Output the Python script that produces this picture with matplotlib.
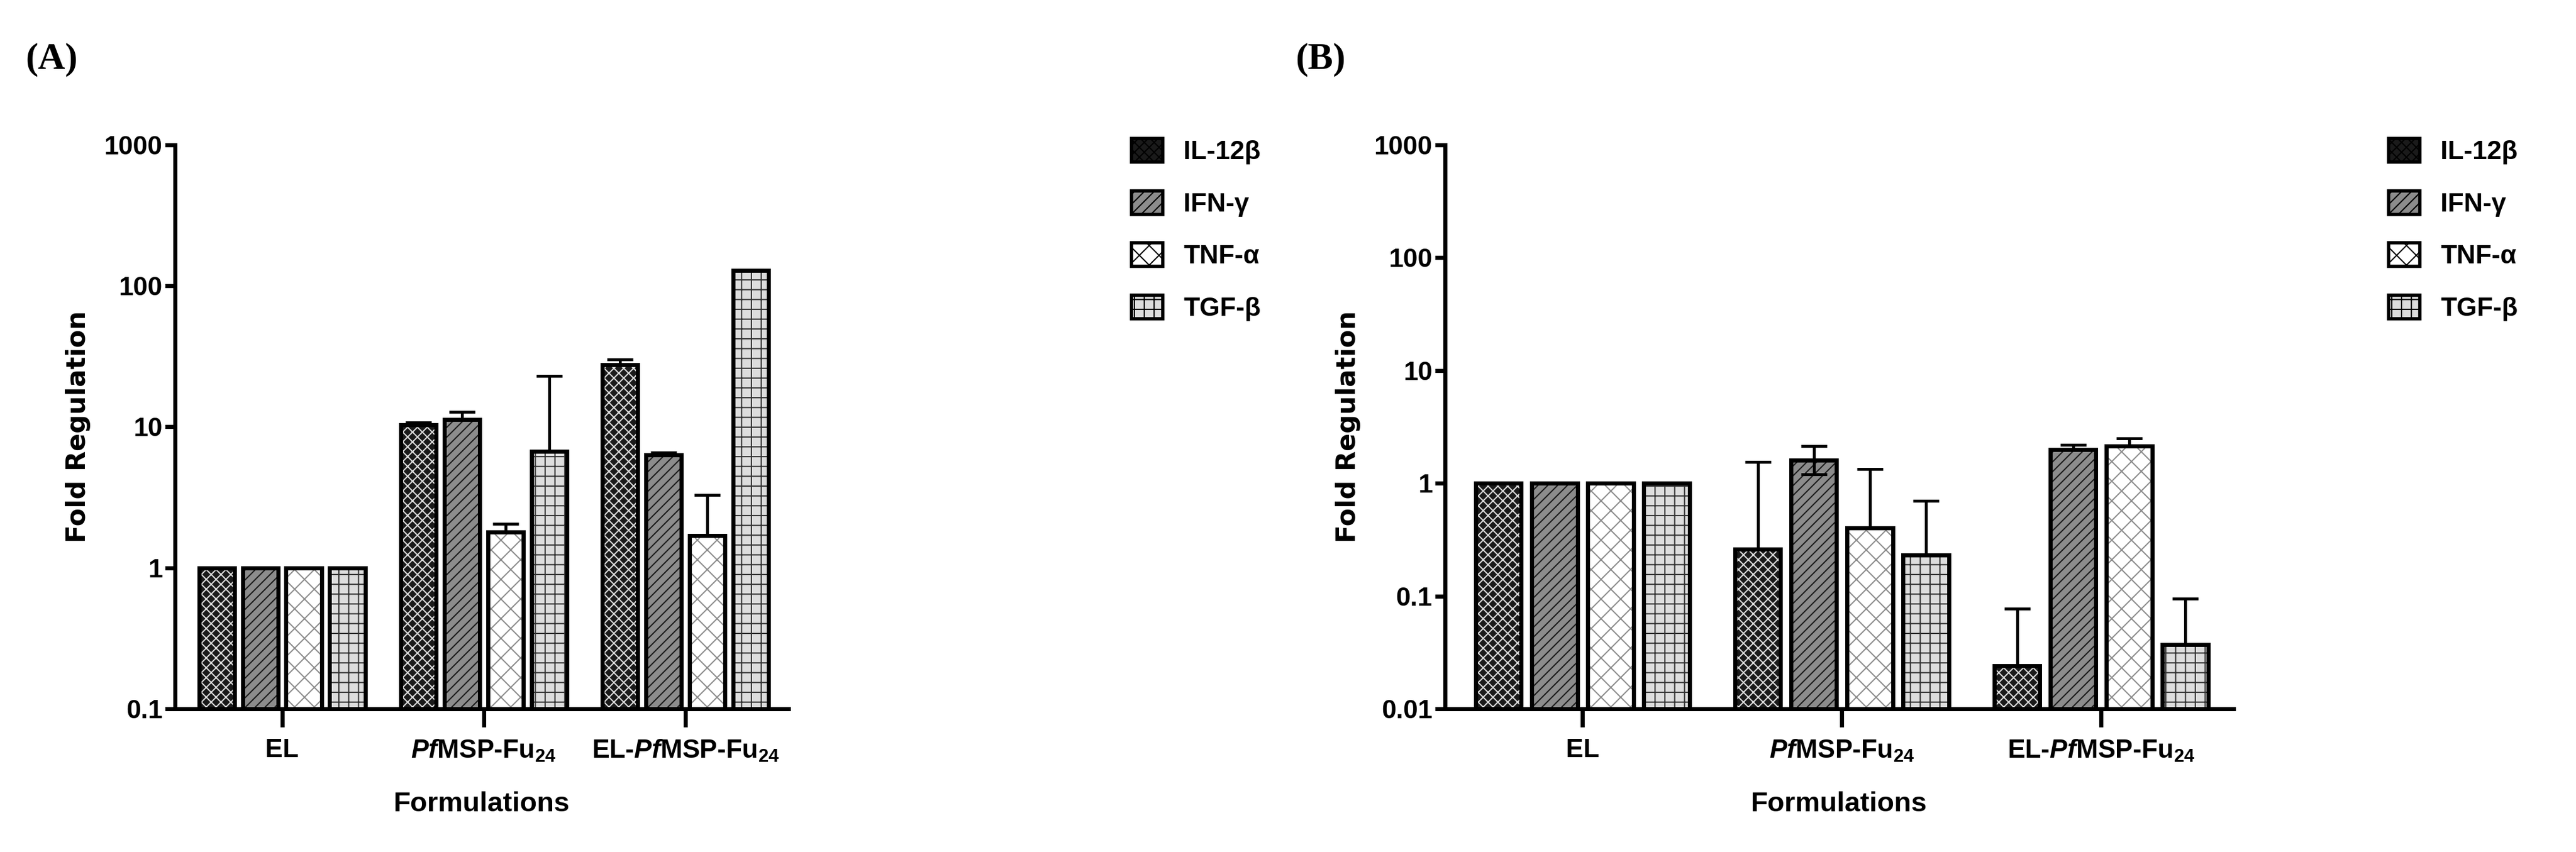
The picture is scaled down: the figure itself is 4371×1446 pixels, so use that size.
import matplotlib
matplotlib.use("Agg")
import matplotlib.pyplot as plt
import numpy as np

plt.rcParams['font.family'] = ['Liberation Sans', 'DejaVu Sans']
plt.rcParams['font.weight'] = 'bold'
plt.rcParams['mathtext.fontset'] = 'custom'
plt.rcParams['mathtext.rm'] = 'Liberation Sans:bold'
plt.rcParams['mathtext.it'] = 'Liberation Sans:italic:bold'
plt.rcParams['mathtext.bf'] = 'Liberation Sans:bold'
plt.rcParams['hatch.linewidth'] = 1.5

groups = ["EL", r"$\it{Pf}$MSP-Fu$_{24}$", r"EL-$\it{Pf}$MSP-Fu$_{24}$"]
cytokines = ["IL-12β", "IFN-γ", "TNF-α", "TGF-β"]

# panel A: fold regulation per cytokine across groups, plus upper error
a_il12 = [1, 10.3, 27.5]
a_ifn = [1, 11.3, 6.3]
a_tnf = [1, 1.8, 1.7]
a_tgf = [1, 6.7, 128]
a_il12_err = [0, 0.4, 2.5]
a_ifn_err = [0, 1.5, 0.3]
a_tnf_err = [0, 0.25, 1.6]
a_tgf_err = [0, 16.3, 2]

# panel B
b_il12 = [1, 0.26, 0.024]
b_ifn = [1, 1.6, 2.0]
b_tnf = [1, 0.4, 2.15]
b_tgf = [1, 0.23, 0.037]
b_il12_err = [0, 1.29, 0.053]
b_ifn_err = [0, 0.55, 0.2]
b_tnf_err = [0, 0.93, 0.35]
b_tgf_err = [0, 0.47, 0.058]
b_ifn_low = [0, 0.4, 0]

styles = [
    dict(fc="#1a1a1a", hc="#dddddd", hatch="xx"),
    dict(fc="#8c8c8c", hc="#1a1a1a", hatch="//"),
    dict(fc="white", hc="#8c8c8c", hatch="x"),
    dict(fc="#dddddd", hc="#333333", hatch="+"),
]


def panel(fig, rect, vals, errs, lows, ymin, letter, legpos):
    ax = fig.add_axes(rect)
    x = np.arange(len(groups))
    w = 0.176
    pitch = 0.216
    for i in range(4):
        xs = x + (i - 1.5) * pitch
        st = styles[i]
        v = np.array(vals[i])
        ax.bar(xs, v - ymin, bottom=ymin, width=w, color=st["fc"], hatch=st["hatch"],
               edgecolor=st["hc"], linewidth=0)
        ax.bar(xs, v - ymin, bottom=ymin, width=w, fill=False, edgecolor="black", linewidth=5)
        ax.errorbar(xs, v, yerr=[lows[i], errs[i]], fmt="none", ecolor="black",
                    elinewidth=3.5, capsize=16, capthick=3.5)
        ax.bar(0, 0, color=st["fc"], hatch=st["hatch"], edgecolor="black", linewidth=4,
               label=cytokines[i])
    ax.set_yscale("log")
    ax.set_ylim(ymin, 1000)
    ax.set_xlim(-0.53, 2.51)
    ax.set_xticks(x)
    ax.set_xticklabels(groups, fontsize=32, fontweight="bold")
    ticks = [10 ** k for k in range(int(np.log10(ymin)), 4)]
    ax.set_yticks(ticks)
    ax.set_yticklabels(["%g" % t for t in ticks], fontsize=32, fontweight="bold")
    ax.minorticks_off()
    ax.tick_params(axis="y", width=5, length=12)
    ax.tick_params(axis="x", width=5, length=22, pad=14)
    for s in ["top", "right"]:
        ax.spines[s].set_visible(False)
    for s in ["left", "bottom"]:
        ax.spines[s].set_linewidth(5)
    ax.set_ylabel("Fold Regulation", fontsize=32, fontweight="bold", family="DejaVu Sans", labelpad=16)
    ax.set_xlabel("Formulations", fontsize=34, fontweight="bold", labelpad=34)
    handles, labels = ax.get_legend_handles_labels()
    fig.legend(handles, labels, loc="upper left", bbox_to_anchor=legpos, frameon=False,
               fontsize=32, handlelength=1.2, handleheight=1.0, labelspacing=1.0, handletextpad=0.8)
    fig.text(rect[0] - 0.058, 0.93, letter, fontsize=46, fontweight="bold", family="Liberation Serif",
             va="center")
    return ax


fig = plt.figure(figsize=(43.71, 14.46), dpi=100)
panel(fig, [0.068, 0.168, 0.238, 0.662],
      [a_il12, a_ifn, a_tnf, a_tgf], [a_il12_err, a_ifn_err, a_tnf_err, a_tgf_err],
      [[0, 0, 0]] * 4, 0.1, "(A)", (0.43, 0.865))
panel(fig, [0.561, 0.168, 0.306, 0.662],
      [b_il12, b_ifn, b_tnf, b_tgf], [b_il12_err, b_ifn_err, b_tnf_err, b_tgf_err],
      [[0, 0, 0], b_ifn_low, [0, 0, 0], [0, 0, 0]], 0.01, "(B)", (0.918, 0.865))
fig.savefig("out.png", dpi=100, facecolor="white")
